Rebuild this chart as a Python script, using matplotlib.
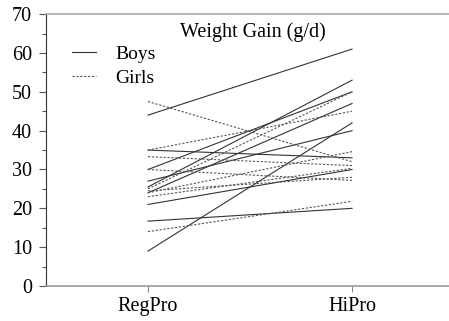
import numpy as np
import matplotlib.pyplot as plt
from matplotlib.ticker import MultipleLocator
from matplotlib.lines import Line2D

plt.rcParams['font.family'] = ['Liberation Serif', 'DejaVu Serif']

groups = ['RegPro', 'HiPro']

# weight gain (g/d) per animal, RegPro -> HiPro
boys_reg = [44, 35, 30, 27, 25.5, 24, 21, 16.7, 9]
boys_hi = [61, 33, 50, 40, 53, 47, 30, 20, 42]
girls_reg = [47.5, 35, 33.3, 30, 25, 24, 23, 24.5, 14]
girls_hi = [32, 45, 31, 27.2, 50, 34.6, 30.3, 28, 21.8]

fig = plt.figure(figsize=(4.49, 3.21), dpi=100)
ax = fig.add_axes([0.1024, 0.109, 0.8976, 0.847])

x = np.arange(len(groups))
for a, b in zip(boys_reg, boys_hi):
    ax.plot(x, [a, b], color='#333333', lw=0.8)
for a, b in zip(girls_reg, girls_hi):
    ax.plot(x, [a, b], color='#555555', lw=0.8, dashes=(2, 1.5))

ax.set_xlim(-0.5, 1.475)
ax.set_ylim(0, 70)
ax.set_xticks(x)
ax.set_xticklabels(groups, fontsize=14.5)
ax.yaxis.set_major_locator(MultipleLocator(10))
ax.yaxis.set_minor_locator(MultipleLocator(5))
ax.tick_params(axis='y', labelsize=14.5, length=5, width=0.8, color='#555555', pad=5)
ax.tick_params(axis='y', which='minor', length=3, width=0.8, color='#555555')
ax.tick_params(axis='x', length=4, width=0.8, color='#888888', pad=4)

ax.spines['right'].set_visible(False)
ax.spines['left'].set_color('#333333')
ax.spines['bottom'].set_color('#999999')
ax.spines['top'].set_color('#aaaaaa')
ax.spines['bottom'].set_linewidth(1.2)
ax.spines['top'].set_linewidth(1.2)

ax.text(0.333, 0.915, 'Weight Gain (g/d)', transform=ax.transAxes, fontsize=14.5)

handles = [Line2D([], [], color='#333333', lw=0.8),
           Line2D([], [], color='#555555', lw=0.8, dashes=(2, 1.5))]
ax.legend(handles, ['Boys', 'Girls'], loc='upper left', bbox_to_anchor=(0.02, 0.95),
          frameon=False, fontsize=14, handlelength=1.25, handletextpad=1.0,
          labelspacing=0.35)

fig.savefig('out.png', dpi=100)
